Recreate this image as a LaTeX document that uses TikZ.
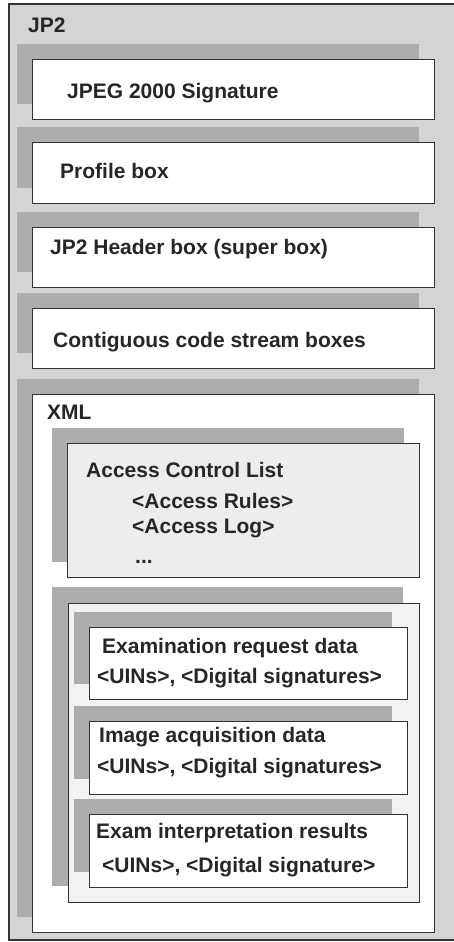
\documentclass[tikz,border=0pt]{standalone}
\usepackage{fontspec}
\setmainfont{Liberation Sans}
\definecolor{framegray}{gray}{0.83}
\definecolor{shadegray}{gray}{0.68}
\definecolor{aclgray}{gray}{0.93}
\definecolor{grpgray}{gray}{0.95}
\definecolor{edgegray}{gray}{0.2}
\begin{document}
\begin{tikzpicture}[x=1pt,y=-1pt,
  box/.style={draw=edgegray, line width=1.2pt, fill=white, anchor=north west, inner sep=0pt},
  shade/.style={fill=shadegray, anchor=north west, inner sep=0pt},
  lbl/.style={anchor=base west, inner sep=0pt, font=\fontsize{21}{25}\selectfont\bfseries, text=black!85}]
\useasboundingbox (0,0) rectangle (454,942);
% outer JP2 frame
\fill[framegray] (9,4) rectangle (454,940);
\coordinate (ftr) at (454,4);
\coordinate (ftl) at (9,4);
\coordinate (fbl) at (9,940);
\coordinate (fbr) at (454,940);
\draw[edgegray, line width=1.2pt] (ftr) -- (ftl) -- (fbl) -- (fbr);
\node[lbl] (jp2) at (28,33) {JP2};
% top-level boxes
\node[shade, minimum width=402pt, minimum height=60pt] (s1) at (17,44) {};
\node[box, minimum width=402pt, minimum height=60pt] (b1) at (32,59) {};
\node[shade, minimum width=402pt, minimum height=61pt] (s2) at (17,127) {};
\node[box, minimum width=402pt, minimum height=61pt] (b2) at (32,142) {};
\node[shade, minimum width=402pt, minimum height=60pt] (s3) at (17,212) {};
\node[box, minimum width=402pt, minimum height=60pt] (b3) at (32,227) {};
\node[shade, minimum width=402pt, minimum height=60pt] (s4) at (17,293) {};
\node[box, minimum width=402pt, minimum height=60pt] (b4) at (32,308) {};
\node[lbl] (t1) at (67,98) {JPEG 2000 Signature};
\node[lbl] (t2) at (60,178) {Profile box};
\node[lbl] (t3) at (50,254) {JP2 Header box (super box)};
\node[lbl] (t4) at (53,347) {Contiguous code stream boxes};
% XML box
\node[shade, minimum width=402pt, minimum height=538pt] (sx) at (17,379) {};
\node[box, minimum width=402pt, minimum height=538pt] (xml) at (32,394) {};
\node[lbl] (tx) at (47,419) {XML};
% Access control list
\node[shade, minimum width=352pt, minimum height=134pt] (sa) at (52,428) {};
\node[box, fill=aclgray, minimum width=352pt, minimum height=134pt] (acl) at (67,443) {};
\node[lbl] (ta) at (86,477) {Access Control List};
\node[lbl] (ta1) at (132,508) {<Access Rules>};
\node[lbl] (ta2) at (132,533) {<Access Log>};
\node[lbl] (ta3) at (135,563) {...};
% group box
\node[shade, minimum width=351pt, minimum height=299pt] (sg) at (52,587) {};
\node[box, fill=grpgray, minimum width=351pt, minimum height=299pt] (grp) at (68,603) {};
% exam boxes
\node[shade, minimum width=318pt, minimum height=72pt] (se1) at (74,612) {};
\node[box, minimum width=318pt, minimum height=72pt] (e1) at (89,627) {};
\node[shade, minimum width=318pt, minimum height=73pt] (se2) at (74,706) {};
\node[box, minimum width=318pt, minimum height=73pt] (e2) at (89,721) {};
\node[shade, minimum width=318pt, minimum height=73pt] (se3) at (74,799) {};
\node[box, minimum width=318pt, minimum height=73pt] (e3) at (89,814) {};
\node[lbl] (te1) at (102,653) {Examination request data};
\node[lbl] (te1b) at (97,683) {<UINs>, <Digital signatures>};
\node[lbl] (te2) at (99,742) {Image acquisition data};
\node[lbl] (te2b) at (97,773) {<UINs>, <Digital signatures>};
\node[lbl] (te3) at (96,838) {Exam interpretation results};
\node[lbl] (te3b) at (102,872) {<UINs>, <Digital signature>};
\end{tikzpicture}
\end{document}
